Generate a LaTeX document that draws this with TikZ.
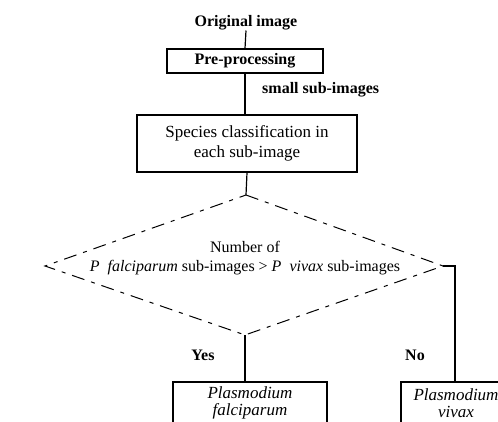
\documentclass[tikz,border=0pt]{standalone}
\usepackage{fontspec}
\setmainfont{Liberation Serif}
\begin{document}
\begin{tikzpicture}[x=1pt,y=-1pt,
  base/.style={font=\fontsize{16}{19}\selectfont},
  boldlbl/.style={font=\fontsize{16}{19}\selectfont\bfseries, inner sep=0pt},
  procbox/.style={draw, line width=1.2pt, inner sep=0pt, align=center},
  resultbox/.style={procbox, font=\fontsize{17}{17}\selectfont\itshape, minimum height=42pt},
  link/.style={line width=1.2pt},
  dia/.style={line width=1pt, dash pattern=on 13pt off 7pt on 4pt off 7pt}]
\useasboundingbox (0,0) rectangle (498,422);
\clip (0,0) rectangle (498,422);
\fill[white] (0,0) rectangle (498,422);

% input and pre-processing
\node[boldlbl] (orig) at (246,23) {Original image};
\node[procbox, boldlbl, minimum width=156pt, minimum height=24pt] (pre) at (245,61) {Pre-processing};
\node[boldlbl, anchor=west] (sub) at (262,90) {small sub-images};

% classification of each sub-image
\node[procbox, font=\fontsize{17}{20}\selectfont, minimum width=220pt, minimum height=57pt] (spec) at (247,143.5)
  {Species classification in\\each sub-image};

% decision diamond
\coordinate (dt) at (246,195);
\coordinate (dr) at (443,266);
\coordinate (db) at (245,335);
\coordinate (dl) at (45,266);
\draw[dia] (dt) -- (dr) -- (db) -- (dl) -- cycle;
\node[base, align=center, inner sep=0pt] (cond) at (245,258)
  {Number of\\\textit{P}\enspace\textit{falciparum} sub-images > \textit{P}\enspace\textit{vivax} sub-images};

% outcomes
\node[resultbox, minimum width=154pt] (yes) at (250,403) {Plasmodium\\falciparum};
\node[resultbox, minimum width=110pt] (no) at (456,403) {Plasmodium\\vivax};
\coordinate (nt) at (455,382);

\node[boldlbl] (ylbl) at (203,355) {Yes};
\node[boldlbl] (nlbl) at (415,355) {No};

% connectors
\draw[link] (orig.south) -- (pre.north);
\draw[link] (pre.south) -- (spec.north -| pre.south);
\draw[link] (spec.south) -- (dt);
\draw[link] (db) -- (db |- yes.north);
\draw[link] (dr) -- (nt |- dr) -- (nt);
\end{tikzpicture}
\end{document}
